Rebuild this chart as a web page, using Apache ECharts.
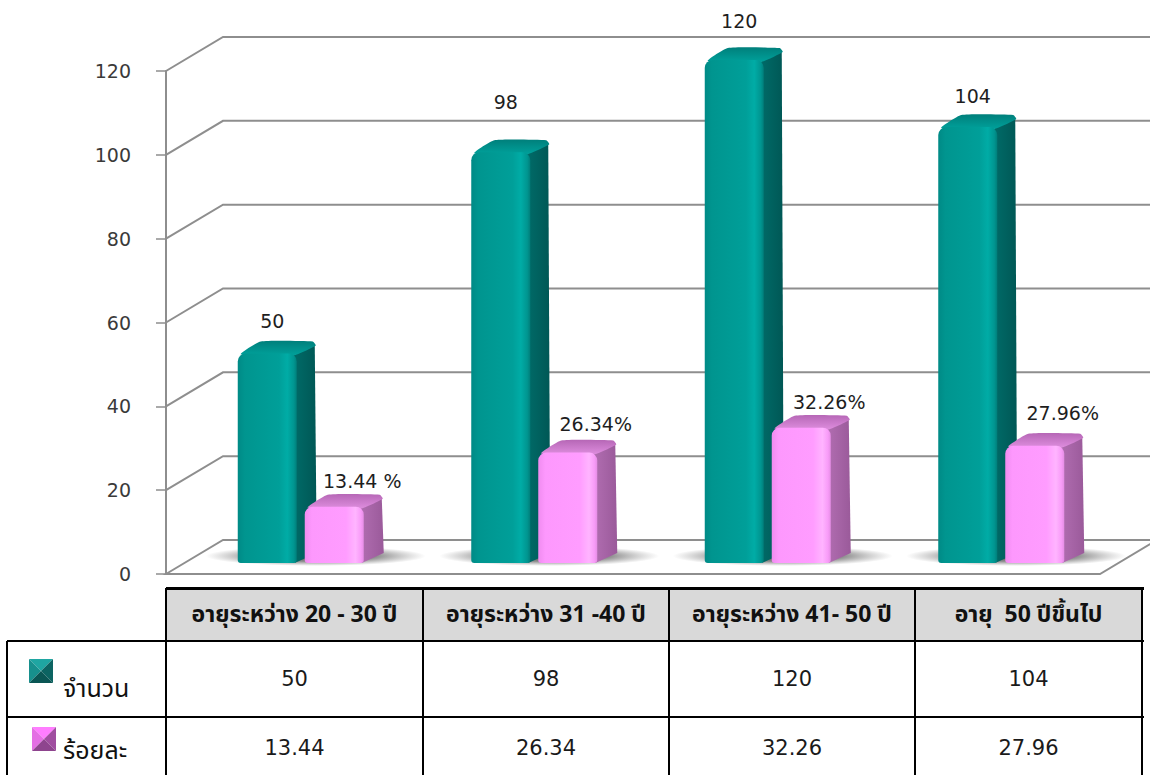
<!DOCTYPE html>
<html>
<head>
<meta charset="utf-8">
<script src="https://cdn.jsdelivr.net/npm/echarts@6/dist/echarts.min.js"></script>
<style>
  html, body { margin: 0; padding: 0; background: #ffffff; }
  #wrap { position: relative; width: 1150px; height: 775px; overflow: hidden; background: #fff; }
  #chart { position: absolute; left: 0; top: 0; width: 1150px; height: 775px; }
  #table { position: absolute; left: 0; top: 0; width: 1150px; height: 775px; pointer-events: none;
           font-family: "Tahoma", "Leelawadee UI", "Noto Sans Thai", "Noto Sans Thai UI", "Loma", "Garuda", "DejaVu Sans", sans-serif; color: #111; }
  .cell { position: absolute; display: flex; align-items: center; justify-content: center; white-space: pre; }
  .hd { font-weight: bold; font-size: 23px; }
  .val { font-size: 21px; font-family: "DejaVu Sans", Tahoma, sans-serif; color: #1a1a1a; }
  .line { position: absolute; background: #000; }
  .rowlab { position: absolute; font-size: 25px; white-space: nowrap; }
  .icon { position: absolute; width: 24px; height: 24px; }
</style>
</head>
<body>
<div id="wrap">
  <div id="chart"></div>
  <div id="table"></div>
</div>
<script>
// Age groups and the two measures shown per group
const categories = ['อายุระหว่าง 20 - 30 ปี', 'อายุระหว่าง 31 -40 ปี', 'อายุระหว่าง 41- 50 ปี', 'อายุ  50 ปีขึ้นไป'];
const seriesNames = ['จำนวน', 'ร้อยละ'];
const countValues = [50, 98, 120, 104];
const percentValues = [13.44, 26.34, 32.26, 27.96];
const percentSuffix = [' %', '%', '%', '%'];
const yTicks = [0, 20, 40, 60, 80, 100, 120];

// Pseudo-3D geometry (pixels)
const WALL = { dx: 57, dy: 34 };              // depth of the floor / back wall
const BAR = { w: 59, sideDx: 20, sideDy: 12, depthDx: 18, depthDy: 11, offset: [-63, 4] };
const LABEL_DX = [5, 28];
const LABEL_LIFT = [[11, 29, 18, 10], [4, 7, 4, 11]];

const PAL = [
  { front: [[0, '#008a86'], [0.12, '#00958f'], [0.7, '#009f99'], [0.84, '#00aca6'], [0.95, '#009590'], [1, '#007e7a']],
    side: ['#006c69', '#005755'], top: ['#007f7b', '#00a29c'] },
  { front: [[0, '#f08cf0'], [0.12, '#fd98fd'], [0.7, '#ff9cff'], [0.86, '#ffb4ff'], [0.95, '#f89cf8'], [1, '#e58de5']],
    side: ['#b26eb2', '#9a5a9a'], top: ['#b667b6', '#e08fe0'] }
];

function hGrad(stops) {
  return new echarts.graphic.LinearGradient(0, 0, 1, 0, stops.map(s => ({ offset: s[0], color: s[1] })));
}

const chart = echarts.init(document.getElementById('chart'), null, { renderer: 'svg' });

function frameItem(params, api) {
  const cs = params.coordSys;
  const v = api.value(1);
  const y = api.coord([0, v])[1];
  const x0 = cs.x, xR = cs.x + cs.width;
  const W = api.getWidth() + 20;
  const grey = '#8e8e8e';
  if (v === 0) {
    return { type: 'polygon', shape: { points: [[x0, y], [x0 + WALL.dx, y - WALL.dy], [xR + WALL.dx, y - WALL.dy], [xR, y]] },
             style: { fill: '#ffffff', stroke: grey, lineWidth: 2 } };
  }
  return { type: 'polyline', shape: { points: [[x0, y], [x0 + WALL.dx, y - WALL.dy], [W, y - WALL.dy]] },
           style: { fill: null, stroke: grey, lineWidth: 2 } };
}

function barItem(s) {
  return function (params, api) {
    const i = api.value(0), v = api.value(1);
    const c = api.coord([i, v]);
    const y0 = api.coord([i, 0])[1];
    const pal = PAL[s];
    const left = c[0] + BAR.offset[s] + BAR.depthDx;
    const top = c[1] - BAR.depthDy;
    const bottom = y0 - BAR.depthDy;
    const w = BAR.w, sx = BAR.sideDx, sy = BAR.sideDy;
    const children = [];
    if (s === 0) {
      // soft floor shadow under the pair of bars
      children.push({
        type: 'ellipse',
        shape: { cx: left + 78, cy: bottom - 7, rx: 110, ry: 10 },
        style: { fill: new echarts.graphic.RadialGradient(0.5, 0.5, 0.5, [
          { offset: 0, color: 'rgba(30,30,30,0.85)' }, { offset: 0.55, color: 'rgba(50,50,50,0.55)' }, { offset: 1, color: 'rgba(90,90,90,0)' }]) }
      });
    }
    children.push({
      type: 'polygon',
      shape: { points: [[left + w - 4, top + 2], [left + w + sx - 2, top - sy + 3], [left + w + sx, bottom - sy + 2], [left + w - 2, bottom]] },
      style: { fill: new echarts.graphic.LinearGradient(0, 0, 1, 0, [{ offset: 0, color: pal.side[0] }, { offset: 1, color: pal.side[1] }]) }
    });
    children.push({
      type: 'polygon',
      shape: { points: [[left + 3, top + 1], [left + sx + 3, top - sy], [left + w + sx - 4, top - sy], [left + w + sx - 1, top - sy + 4], [left + w - 3, top + 2]], smooth: 0.15 },
      style: { fill: new echarts.graphic.LinearGradient(0, 0, 0, 1, [{ offset: 0, color: pal.top[0] }, { offset: 1, color: pal.top[1] }]) }
    });
    children.push({
      type: 'rect',
      shape: { x: left, y: top, width: w, height: bottom - top, r: [8, 8, 3, 3] },
      style: { fill: hGrad(pal.front) }
    });
    const txt = s === 0 ? String(v) : v.toFixed(2) + percentSuffix[i];
    children.push({
      type: 'text',
      style: {
        text: txt, x: left + w / 2 + LABEL_DX[s], y: top - sy - LABEL_LIFT[s][i],
        align: 'center', verticalAlign: 'bottom',
        font: '19px "DejaVu Sans", Tahoma, sans-serif', fill: '#1e1e1e'
      }
    });
    return { type: 'group', children };
  };
}

chart.setOption({
  animation: false,
  backgroundColor: '#ffffff',
  grid: { left: 166, right: 50, top: 71, bottom: 201 },
  xAxis: {
    type: 'category', data: categories,
    axisLine: { show: false }, axisTick: { show: false }, axisLabel: { show: false }, splitLine: { show: false }
  },
  yAxis: {
    type: 'value', min: 0, max: 120, interval: 20,
    axisLine: { show: true, lineStyle: { color: '#8e8e8e', width: 2 } },
    axisTick: { show: true, length: 10, lineStyle: { color: '#8e8e8e', width: 1.5 } },
    axisLabel: { margin: 35, fontSize: 19, color: '#3a3a3a', fontFamily: '"DejaVu Sans", Tahoma, sans-serif' },
    splitLine: { show: false }
  },
  series: [
    { type: 'custom', name: 'frame', renderItem: frameItem, data: yTicks.map(v => [0, v]), z: 1, silent: true, clip: false },
    { type: 'custom', name: seriesNames[0], renderItem: barItem(0), data: countValues.map((v, i) => [i, v]), z: 3, clip: false },
    { type: 'custom', name: seriesNames[1], renderItem: barItem(1), data: percentValues.map((v, i) => [i, v]), z: 4, clip: false }
  ]
});

// Data table below the chart
(function buildTable() {
  const host = document.getElementById('table');
  const colX = [166, 423, 669, 915, 1142];
  const rowY = [588, 641, 717, 790];
  const add = (cls, css, text) => {
    const d = document.createElement('div');
    d.className = cls;
    Object.assign(d.style, css);
    if (text !== undefined) d.textContent = text;
    host.appendChild(d);
    return d;
  };
  // header fill
  add('line', { left: colX[0] + 'px', top: rowY[0] + 'px', width: (colX[4] - colX[0]) + 'px', height: (rowY[1] - rowY[0]) + 'px', background: '#d9d9d9' });
  categories.forEach((c, j) => {
    const w = (colX[j + 1] - colX[j]) + 'px';
    add('cell hd', { left: colX[j] + 'px', top: rowY[0] + 'px', width: w, height: (rowY[1] - rowY[0]) + 'px' }, c);
    add('cell val', { left: colX[j] + 'px', top: rowY[1] + 'px', width: w, height: (rowY[2] - rowY[1]) + 'px' }, String(countValues[j]));
    add('cell val', { left: colX[j] + 'px', top: rowY[2] + 'px', width: w, height: '62px' }, percentValues[j].toFixed(2));
  });
  // grid lines
  add('line', { left: colX[0] + 'px', top: (rowY[0] - 1) + 'px', width: (colX[4] - colX[0] + 2) + 'px', height: '3px' });
  [rowY[1], rowY[2]].forEach(y => add('line', { left: '7px', top: (y - 1) + 'px', width: (colX[4] - 7 + 2) + 'px', height: '2px' }));
  colX.forEach(x => add('line', { left: (x - 1) + 'px', top: rowY[0] + 'px', width: '2px', height: (rowY[3] - rowY[0]) + 'px' }));
  add('line', { left: '6px', top: rowY[1] + 'px', width: '2px', height: (rowY[3] - rowY[1]) + 'px' });

  // row headers with pyramid-style legend keys
  const keyColors = [
    ['#1fa6a2', '#17908d', '#0c6462', '#0a5654'],
    ['#ff7dff', '#e46fe4', '#a04ea0', '#8e448e']
  ];
  const keyPos = [[29, 659], [32, 727]];
  seriesNames.forEach((n, k) => {
    const [kx, ky] = keyPos[k];
    const c = keyColors[k];
    const svg = '<svg width="24" height="24" viewBox="0 0 24 24">' +
      '<polygon points="0,0 24,0 12,12" fill="' + c[0] + '"/>' +
      '<polygon points="0,0 12,12 0,24" fill="' + c[1] + '"/>' +
      '<polygon points="24,0 24,24 12,12" fill="' + c[2] + '"/>' +
      '<polygon points="0,24 12,12 24,24" fill="' + c[3] + '"/></svg>';
    const ic = add('icon', { left: kx + 'px', top: ky + 'px' });
    ic.innerHTML = svg;
    add('rowlab', { left: '63px', top: (k === 0 ? 670 : 732) + 'px' }, n);
  });
})();
</script>
</body>
</html>
